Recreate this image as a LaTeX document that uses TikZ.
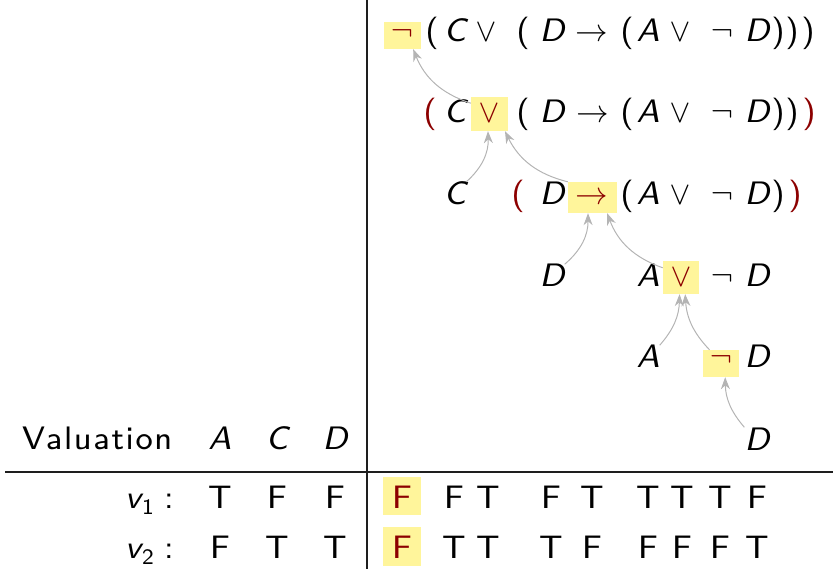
\documentclass[tikz,border=0pt]{standalone}
\usepackage{fontspec}
\setmainfont{lmsans8-regular.otf}[ItalicFont=lmsans8-oblique.otf]
\newfontfamily\widesans{lmsans8-regular.otf}[LetterSpace=5]
\newfontfamily\symf{latinmodern-math.otf}
\usetikzlibrary{arrows.meta}
\definecolor{hlyellow}{RGB}{255,245,155}
\definecolor{opred}{RGB}{140,0,0}
\definecolor{arrgray}{RGB}{180,180,180}
\definecolor{rulecol}{RGB}{30,30,30}
\newcommand\vr[1]{{\itshape #1}}
\newcommand\NOT{{\symf ¬}}
\newcommand\OR{{\symf ∨}}
\newcommand\IMP{{\symf →}}
\begin{document}
\begin{tikzpicture}[x=1pt,y=1pt,
  every node/.style={font=\fontsize{32.5}{38}\selectfont, inner sep=0pt},
  tok/.style={anchor=base},
  optok/.style={anchor=base,text=opred},
  hl/.style={fill=hlyellow, draw=none},
  subtok/.style={anchor=base,font=\fontsize{22}{26}\selectfont},
  arr/.style={draw=arrgray, line width=1pt, -{Stealth[length=12pt,width=9pt]}},
  rule/.style={draw=rulecol, line width=1.2pt}
]
\useasboundingbox (0,0) rectangle (833,-569);
% highlight boxes
\node[hl,minimum width=37pt,minimum height=27pt] (h1) at (402.5,-35.5) {};
\node[hl,minimum width=37pt,minimum height=34pt] (h2) at (489.5,-114) {};
\node[hl,minimum width=49pt,minimum height=31pt] (h3) at (592.5,-197.5) {};
\node[hl,minimum width=36pt,minimum height=33pt] (h4) at (681,-277.5) {};
\node[hl,minimum width=36pt,minimum height=27pt] (h5) at (721,-363.5) {};
\node[hl,minimum width=38pt,minimum height=38pt] (h6) at (402,-496) {};
\node[hl,minimum width=38pt,minimum height=39pt] (h7) at (402,-546.5) {};
% rules
\coordinate (vt) at (367,0);
\coordinate (vb) at (367,-569);
\coordinate (hlft) at (5,-472);
\coordinate (hrgt) at (833,-472);
\draw[rule] (vt) -- (vb);
\draw[rule] (hlft) -- (hrgt);
% row 1
\node[optok] (r1a) at (402,-42) {\NOT};
\node[tok] (r1b) at (432,-42) {(};
\node[tok] (r1c) at (455,-42) {\vr{C}};
\node[tok] (r1d) at (486,-42) {\OR};
\node[tok] (r1e) at (523,-42) {(};
\node[tok] (r1f) at (552,-42) {\vr{D}};
\node[tok] (r1g) at (592,-42) {\IMP};
\node[tok] (r1h) at (627,-42) {(};
\node[tok] (r1i) at (648,-42) {\vr{A}};
\node[tok] (r1j) at (680,-42) {\OR};
\node[tok] (r1k) at (722,-42) {\NOT};
\node[tok] (r1l) at (757,-42) {\vr{D}};
\node[tok] (r1m) at (778,-42) {)};
\node[tok] (r1n) at (792,-42) {)};
\node[tok] (r1o) at (808,-42) {)};
% row 2
\node[optok] (r2a) at (430,-123) {(};
\node[tok] (r2b) at (455,-123) {\vr{C}};
\node[optok] (r2c) at (489,-123) {\OR};
\node[tok] (r2d) at (523,-123) {(};
\node[tok] (r2e) at (552,-123) {\vr{D}};
\node[tok] (r2f) at (593,-123) {\IMP};
\node[tok] (r2g) at (627,-123) {(};
\node[tok] (r2h) at (648,-123) {\vr{A}};
\node[tok] (r2i) at (680,-123) {\OR};
\node[tok] (r2j) at (722,-123) {\NOT};
\node[tok] (r2k) at (757,-123) {\vr{D}};
\node[tok] (r2l) at (778,-123) {)};
\node[tok] (r2m) at (792,-123) {)};
\node[optok] (r2n) at (809,-123) {)};
% row 3
\node[tok] (c3) at (455,-205) {\vr{C}};
\node[optok] (r3a) at (518,-205) {(};
\node[tok] (r3b) at (552,-205) {\vr{D}};
\node[optok] (r3c) at (592,-205) {\IMP};
\node[tok] (r3d) at (627,-205) {(};
\node[tok] (r3e) at (648,-205) {\vr{A}};
\node[tok] (r3f) at (680,-205) {\OR};
\node[tok] (r3g) at (722,-205) {\NOT};
\node[tok] (r3h) at (757,-205) {\vr{D}};
\node[tok] (r3i) at (778,-205) {)};
\node[optok] (r3j) at (795,-205) {)};
% row 4
\node[tok] (d4) at (552,-287) {\vr{D}};
\node[tok] (r4a) at (648,-287) {\vr{A}};
\node[optok] (r4b) at (681,-287) {\OR};
\node[tok] (r4c) at (722,-287) {\NOT};
\node[tok] (r4d) at (757,-287) {\vr{D}};
% row 5
\node[tok] (a5) at (648,-368) {\vr{A}};
\node[optok] (r5a) at (721,-368) {\NOT};
\node[tok] (r5b) at (757,-368) {\vr{D}};
% row 6
\node[tok] (d6) at (757,-450) {\vr{D}};
% arrows
\draw[arr] (h2.150) to[bend left=25] (h1.-52);
\draw[arr] (c3.north east) to[bend right=25] (h2.-95);
\draw[arr] (h3.north west) to[bend left=25] (h2.-48);
\draw[arr] (d4.north east) to[bend right=25] (h3.-106);
\draw[arr] (h4.152) to[bend left=25] (h3.-47);
\draw[arr] (a5.north east) to[bend right=20] (h4.-95);
\draw[arr] (h5.130) to[bend left=20] (h4.-76);
\draw[arr] (d6.north west) to[bend left=20] (h5.-73);
% table header
\node[anchor=base west] (val) at (22,-449) {\widesans Valuation};
\node[tok] (ha) at (220,-449) {\vr{A}};
\node[tok] (hc) at (277,-449) {\vr{C}};
\node[tok] (hd) at (335,-449) {\vr{D}};
% v1 row
\node[tok] (v1) at (133,-508) {\vr{v}};
\node[subtok] (v1s) at (148,-514) {1};
\node[tok] (v1c) at (169,-508) {:};
\node[tok] (v1a) at (220,-508) {T};
\node[tok] (v1b) at (277,-508) {F};
\node[tok] (v1d) at (335,-508) {F};
\node[optok] (v1e) at (402,-508) {F};
\node[tok] (v1f) at (454,-508) {F};
\node[tok] (v1g) at (488,-508) {T};
\node[tok] (v1h) at (551,-508) {F};
\node[tok] (v1i) at (592,-508) {T};
\node[tok] (v1j) at (648,-508) {T};
\node[tok] (v1k) at (682,-508) {T};
\node[tok] (v1l) at (720,-508) {T};
\node[tok] (v1m) at (757,-508) {F};
% v2 row
\node[tok] (v2) at (133,-558) {\vr{v}};
\node[subtok] (v2s) at (148,-564) {2};
\node[tok] (v2c) at (169,-558) {:};
\node[tok] (v2a) at (220,-558) {F};
\node[tok] (v2b) at (277,-558) {T};
\node[tok] (v2d) at (335,-558) {T};
\node[optok] (v2e) at (402,-558) {F};
\node[tok] (v2f) at (454,-558) {T};
\node[tok] (v2g) at (488,-558) {T};
\node[tok] (v2h) at (551,-558) {T};
\node[tok] (v2i) at (592,-558) {F};
\node[tok] (v2j) at (648,-558) {F};
\node[tok] (v2k) at (682,-558) {F};
\node[tok] (v2l) at (720,-558) {F};
\node[tok] (v2m) at (757,-558) {T};
\end{tikzpicture}
\end{document}
